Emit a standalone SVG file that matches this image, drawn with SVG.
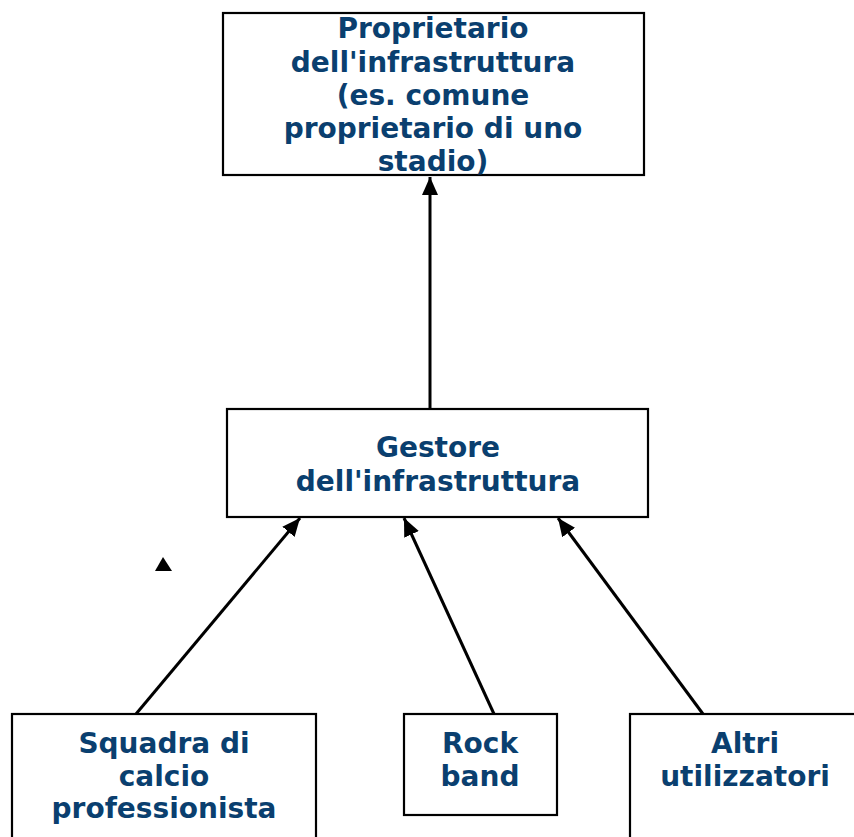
<svg xmlns="http://www.w3.org/2000/svg" width="854" height="837" viewBox="0 0 854 837">
<defs>
<marker id="ah" markerUnits="userSpaceOnUse" markerWidth="20" markerHeight="16" refX="18" refY="8" orient="auto">
<path d="M0,0 L18,8 L0,16 Z" fill="#000"/>
</marker>
<style>
.box{fill:#fff;stroke:#000;stroke-width:2.2}
.t{font-family:"DejaVu Sans",Verdana,sans-serif;font-weight:bold;font-size:28px;fill:#0a3f6f;text-anchor:middle}
.c{stroke:#000;stroke-width:3;fill:none;marker-end:url(#ah)}
</style>
</defs>
<rect width="854" height="837" fill="#fff"/>
<g id="connectors">
<line class="c" x1="430" y1="409" x2="430" y2="177"/>
<line class="c" x1="136" y1="714" x2="300" y2="518"/>
<line class="c" x1="494" y1="714" x2="404" y2="518"/>
<line class="c" x1="703" y1="714" x2="558" y2="518"/>
<polygon points="163,557 172,571 155,571" fill="#000"/>
</g>
<g id="proprietario">
<rect class="box" x="223" y="13" width="421" height="162"/>
<text class="t" x="433" y="38">Proprietario</text>
<text class="t" x="433" y="72">dell'infrastruttura</text>
<text class="t" x="433" y="105">(es. comune</text>
<text class="t" x="433" y="138">proprietario di uno</text>
<text class="t" x="433" y="171">stadio)</text>
</g>
<g id="gestore">
<rect class="box" x="227" y="409" width="421" height="108"/>
<text class="t" x="438" y="457">Gestore</text>
<text class="t" x="438" y="491">dell'infrastruttura</text>
</g>
<g id="squadra">
<rect class="box" x="12" y="714" width="304" height="140"/>
<text class="t" x="164" y="753">Squadra di</text>
<text class="t" x="164" y="786">calcio</text>
<text class="t" x="164" y="818">professionista</text>
</g>
<g id="rockband">
<rect class="box" x="404" y="714" width="153" height="101"/>
<text class="t" x="480" y="753">Rock</text>
<text class="t" x="480" y="786">band</text>
</g>
<g id="altri">
<rect class="box" x="630" y="714" width="240" height="140"/>
<text class="t" x="745" y="753">Altri</text>
<text class="t" x="745" y="786">utilizzatori</text>
</g>
</svg>
